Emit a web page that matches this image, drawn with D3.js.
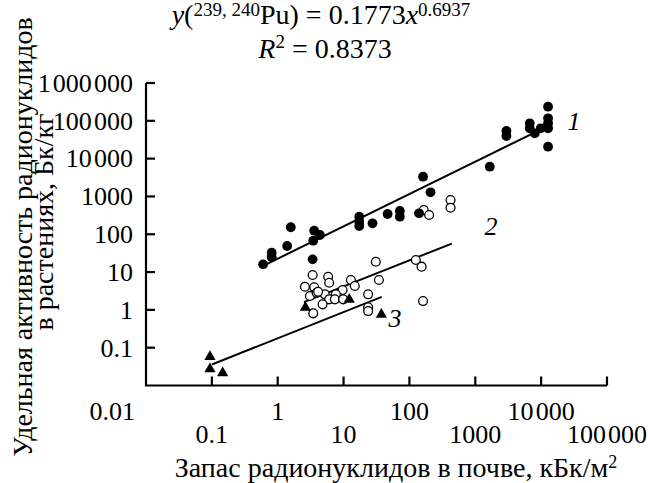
<!DOCTYPE html>
<html>
<head>
<meta charset="utf-8">
<script src="https://cdn.jsdelivr.net/npm/d3@7"></script>
<style>
  html, body { margin: 0; padding: 0; background: #fff; }
  svg text { font-family: "Liberation Serif", "Tinos", "Times New Roman", Times, "Nimbus Roman", "Noto Serif", "DejaVu Serif", "FreeSerif", serif; }
</style>
</head>
<body>
<svg id="chart" width="648" height="483"></svg>
<script>
// Soil stock (kBq/m2) vs. plant specific activity (Bq/kg), log-log
const xTicks = [0.01, 0.1, 1, 10, 100, 1000, 10000, 100000];
const xTickLabels = ["0.01", "0.1", "1", "10", "100", "1000", "10\u200a000", "100\u200a000"];
const yTicks = [0.1, 1, 10, 100, 1000, 10000, 100000, 1000000];
const yTickLabels = ["0.1", "1", "10", "100", "1000", "10\u200a000", "100\u200a000", "1\u200a000\u200a000"];

// Series 1 — filled circles
const s1x = [0.60, 0.81, 0.81, 1.39, 1.58, 3.39, 3.58, 4.37, 3.46, 17.3, 17.3, 17.3, 27.5, 46.6, 71.5, 71.5,
             140, 161, 209, 1660, 2970, 2970, 6710, 6710, 8000, 9860, 12740, 12740, 12740, 12740, 12740];
const s1y = [16, 32.5, 24.5, 48.9, 153, 21.7, 124, 95.5, 67.5, 291, 215, 165, 195, 343, 412, 291,
             358, 3325, 1286, 6110, 53750, 39650, 85900, 63400, 46800, 63400, 236000, 116500, 86000, 63400, 20650];

// Series 2 — open circles
const s2x = [165, 199, 421, 421, 30.9, 125, 153, 34.4, 3.39, 5.83, 6.04, 2.59, 3.58, 12.9, 14.8, 9.66,
             3.08, 3.89, 5.20, 7.64, 6.04, 7.38, 9.86, 4.80, 23.6, 23.6, 23.6, 161, 3.46, 4.1];
const s2y = [438, 323, 805, 504, 18.8, 20.8, 13.9, 6.16, 8.36, 7.53, 5.23, 4.10, 3.95, 6.16, 4.28, 3.35,
             2.33, 2.84, 2.58, 2.58, 1.90, 1.90, 1.90, 1.40, 2.58, 1.17, 0.93, 1.71, 0.81, 3.0];

// Series 3 — triangles (239,240Pu)
const s3x = [0.0936, 0.0936, 0.146, 2.63, 12.2, 37.5];
const s3y = [0.0577, 0.0273, 0.0214, 1.15, 1.88, 0.75];

// Trend lines of series 1 and 2 (end points)
const fit1x = [0.60, 11350];
const fit1y = [14.6, 65900];
const fit2x = [2.5, 440];
const fit2y = [1.60, 56.7];
// Trend of series 3: y = 0.1773 x^0.6937
const fit3a = 0.1773, fit3b = 0.6937;
const fit3x = [0.1, 38];

const svg = d3.select("#chart");
const TICK_FS = 26;   // tick labels
const TITLE_FS = 28;  // axis titles
const EQ_FS = 28;     // equation header

const x = d3.scaleLog().domain([0.01, 100000]).range([146, 607]);
const y = d3.scaleLog().domain([0.01, 1000000]).range([385.5, 83]);

const axisColor = "#000";

// Axes lines
svg.append("path")
  .attr("d", `M${x(0.01)},${y(1000000)}V${y(0.01)}H${x(100000)}`)
  .attr("fill", "none").attr("stroke", axisColor).attr("stroke-width", 2.2);

// Y ticks (inward) and labels
const yAxisG = svg.append("g");
yAxisG.selectAll("line").data(yTicks).join("line")
  .attr("x1", x(0.01)).attr("x2", x(0.01) + 9)
  .attr("y1", d => y(d)).attr("y2", d => y(d))
  .attr("stroke", axisColor).attr("stroke-width", 2.2);
yAxisG.selectAll("text").data(yTicks).join("text")
  .attr("x", 133).attr("y", d => y(d))
  .attr("dy", "0.34em")
  .attr("text-anchor", "end")
  .attr("font-size", TICK_FS)
  .text((d, i) => yTickLabels[i]);

// X ticks (inward) and staggered labels
const xAxisG = svg.append("g");
xAxisG.selectAll("line").data(xTicks.slice(1)).join("line")
  .attr("x1", d => x(d)).attr("x2", d => x(d))
  .attr("y1", y(0.01)).attr("y2", y(0.01) - 9)
  .attr("stroke", axisColor).attr("stroke-width", 2.2);
xAxisG.selectAll("text").data(xTicks).join("text")
  .attr("x", (d, i) => i === 0 ? x(d) - 11 : x(d))
  .attr("y", (d, i) => i % 2 === 0 ? 420 : 443)
  .attr("text-anchor", (d, i) => i === 0 ? "end" : "middle")
  .attr("font-size", TICK_FS)
  .text((d, i) => xTickLabels[i]);

// Axis titles
const xt = svg.append("text")
  .attr("x", 396).attr("y", 477)
  .attr("text-anchor", "middle")
  .attr("font-size", TITLE_FS);
xt.append("tspan").text("Запас радионуклидов в почве, кБк/м");
xt.append("tspan").attr("dy", -9).attr("font-size", 18).text("2");

const yt = svg.append("g");
yt.append("text")
  .attr("transform", "translate(32,237) rotate(-90)")
  .attr("text-anchor", "middle").attr("font-size", TITLE_FS)
  .text("Удельная активность радионуклидов");
yt.append("text")
  .attr("transform", "translate(53,222) rotate(-90)")
  .attr("text-anchor", "middle").attr("font-size", TITLE_FS)
  .text("в растениях, Бк/кг");

// Equation header
const eq1 = svg.append("text")
  .attr("x", 321).attr("y", 24)
  .attr("text-anchor", "middle").attr("font-size", EQ_FS);
eq1.append("tspan").attr("font-style", "italic").text("y");
eq1.append("tspan").text("(");
eq1.append("tspan").attr("dy", -8).attr("font-size", 19).text("239, 240");
eq1.append("tspan").attr("dy", 8).text("Pu) = 0.1773");
eq1.append("tspan").attr("font-style", "italic").text("x");
eq1.append("tspan").attr("dy", -8).attr("font-size", 19).text("0.6937");

const eq2 = svg.append("text")
  .attr("x", 325).attr("y", 58)
  .attr("text-anchor", "middle").attr("font-size", EQ_FS);
eq2.append("tspan").attr("font-style", "italic").text("R");
eq2.append("tspan").attr("dy", -10).attr("font-size", 19).text("2");
eq2.append("tspan").attr("dy", 10).text(" = 0.8373");

// Trend lines
const line = d3.line().x(d => x(d[0])).y(d => y(d[1]));
const fits = [
  d3.zip(fit1x, fit1y),
  d3.zip(fit2x, fit2y),
  fit3x.map(v => [v, fit3a * Math.pow(v, fit3b)])
];
svg.append("g").selectAll("path").data(fits).join("path")
  .attr("d", line)
  .attr("fill", "none").attr("stroke", "#000").attr("stroke-width", 2);

// Series 2: open circles
svg.append("g").selectAll("circle").data(d3.zip(s2x, s2y)).join("circle")
  .attr("cx", d => x(d[0])).attr("cy", d => y(d[1])).attr("r", 4.4)
  .attr("fill", "#fff").attr("stroke", "#000").attr("stroke-width", 1.3);

// Series 1: filled circles
svg.append("g").selectAll("circle").data(d3.zip(s1x, s1y)).join("circle")
  .attr("cx", d => x(d[0])).attr("cy", d => y(d[1])).attr("r", 4.9)
  .attr("fill", "#000");

// Series 3: triangles
const tri = d3.symbol().type(d3.symbolTriangle).size(55);
svg.append("g").selectAll("path").data(d3.zip(s3x, s3y)).join("path")
  .attr("d", tri)
  .attr("transform", d => `translate(${x(d[0])},${y(d[1])})`)
  .attr("fill", "#000");

// Series numbers
const tags = [["1", 574, 130], ["2", 491, 235], ["3", 395, 327]];
svg.append("g").selectAll("text").data(tags).join("text")
  .attr("x", d => d[1]).attr("y", d => d[2])
  .attr("text-anchor", "middle")
  .attr("font-size", 26).attr("font-style", "italic")
  .text(d => d[0]);
</script>
</body>
</html>
